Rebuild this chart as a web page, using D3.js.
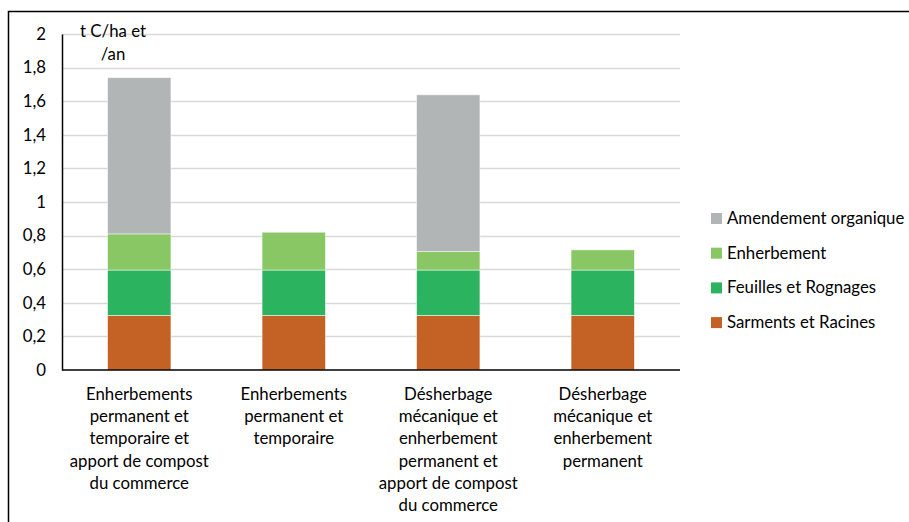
<!DOCTYPE html>
<html>
<head>
<meta charset="utf-8">
<script src="https://cdn.jsdelivr.net/npm/d3@7/dist/d3.min.js"></script>
<style>
  html, body { margin: 0; padding: 0; background: #fff; }
  svg { display: block; font-family: Lato, "Open Sans", sans-serif; }
</style>
</head>
<body>
<svg id="chart" width="909" height="522"></svg>
<script>
// Carbon inputs per vineyard practice (t C/ha/an)
const categories = [
  ["Enherbements", "permanent et", "temporaire et", "apport de compost", "du commerce"],
  ["Enherbements", "permanent et", "temporaire"],
  ["Désherbage", "mécanique et", "enherbement", "permanent et", "apport de compost", "du commerce"],
  ["Désherbage", "mécanique et", "enherbement", "permanent"]
];
const seriesNames = ["Sarments et Racines", "Feuilles et Rognages", "Enherbement", "Amendement organique"];
const sarments   = [0.325, 0.325, 0.325, 0.325];
const feuilles   = [0.27, 0.27, 0.27, 0.27];
const enherbement = [0.215, 0.225, 0.11, 0.12];
const amendement = [0.93, 0, 0.933, 0];
const yTicks = [0, 0.2, 0.4, 0.6, 0.8, 1, 1.2, 1.4, 1.6, 1.8, 2];
const seriesColors = ["#C46125", "#2BB35F", "#88C764", "#B2B5B6"];
const unitLabel = ["t C/ha et", "/an"];

const svg = d3.select("#chart");
const margin = { left: 62, right: 229, top: 34, bottom: 152 };
const W = 909, H = 522;
const FS = 16.8;

// outer frame (left and top edges visible)
svg.append("path")
  .attr("d", `M8.5,${H} L8.5,11.5 L${W},11.5`)
  .attr("fill", "none").attr("stroke", "#000").attr("stroke-width", 1.5);

const x = d3.scaleBand()
  .domain(d3.range(categories.length))
  .range([margin.left, W - margin.right])
  .paddingInner(0.59).paddingOuter(0.295);

const y = d3.scaleLinear().domain([0, 2]).range([H - margin.bottom, margin.top]);

// gridlines
svg.append("g").selectAll("line").data(yTicks.filter(d => d > 0)).join("line")
  .attr("x1", margin.left).attr("x2", W - margin.right)
  .attr("y1", d => Math.round(y(d)) + 0.5).attr("y2", d => Math.round(y(d)) + 0.5)
  .attr("stroke", "#d9d9d9").attr("stroke-width", 1.5);

// stacked bars
const table = categories.map((c, i) => ({
  i,
  "Sarments et Racines": sarments[i],
  "Feuilles et Rognages": feuilles[i],
  "Enherbement": enherbement[i],
  "Amendement organique": amendement[i]
}));
const stacked = d3.stack().keys(seriesNames)(table);

svg.append("g").selectAll("g").data(stacked).join("g")
  .attr("fill", (d, k) => seriesColors[k])
  .selectAll("rect").data(d => d.filter(p => p[1] - p[0] > 0)).join("rect")
  .attr("x", p => x(p.data.i))
  .attr("width", x.bandwidth())
  .attr("y", p => y(p[1]))
  .attr("height", p => y(p[0]) - y(p[1]))
  .attr("stroke", "rgba(255,255,255,0.6)").attr("stroke-width", 0.8);

// y axis
const yAxis = d3.axisLeft(y).tickValues(yTicks).tickSize(0).tickPadding(16)
  .tickFormat(d => d3.format("~g")(d).replace(".", ","));
const gy = svg.append("g").attr("transform", `translate(${margin.left},0)`).call(yAxis);
gy.select(".domain").attr("stroke", "#000").attr("stroke-width", 1.5);
gy.selectAll("text").attr("font-size", FS).attr("fill", "#000")
  .attr("font-family", "Lato, sans-serif");

// x axis line
svg.append("line")
  .attr("x1", margin.left).attr("x2", W - margin.right)
  .attr("y1", y(0)).attr("y2", y(0))
  .attr("stroke", "#000").attr("stroke-width", 1.5);

// category labels
const xl = svg.append("g").selectAll("text").data(categories).join("text")
  .attr("text-anchor", "middle")
  .attr("font-size", FS).attr("fill", "#000")
  .attr("transform", (d, i) => `translate(${x(i) + x.bandwidth() / 2},400)`);
xl.selectAll("tspan").data(d => d).join("tspan")
  .attr("x", 0).attr("y", (d, j) => j * 22.2).text(d => d);

// unit label
svg.append("text").attr("text-anchor", "middle").attr("font-size", FS)
  .attr("transform", "translate(113,37)")
  .selectAll("tspan").data(unitLabel).join("tspan")
  .attr("x", 0).attr("y", (d, j) => j * 22.5).text(d => d);

// legend (top to bottom: reversed stack order)
const legendItems = seriesNames.map((n, k) => ({ n, c: seriesColors[k] })).reverse();
const lg = svg.append("g").selectAll("g").data(legendItems).join("g")
  .attr("transform", (d, j) => `translate(711,${218.5 + j * 34.7})`);
lg.append("rect").attr("x", 0).attr("y", -5.5).attr("width", 11).attr("height", 11)
  .attr("fill", d => d.c);
lg.append("text").attr("x", 16).attr("y", 5.5).attr("font-size", FS).text(d => d.n);
</script>
</body>
</html>
